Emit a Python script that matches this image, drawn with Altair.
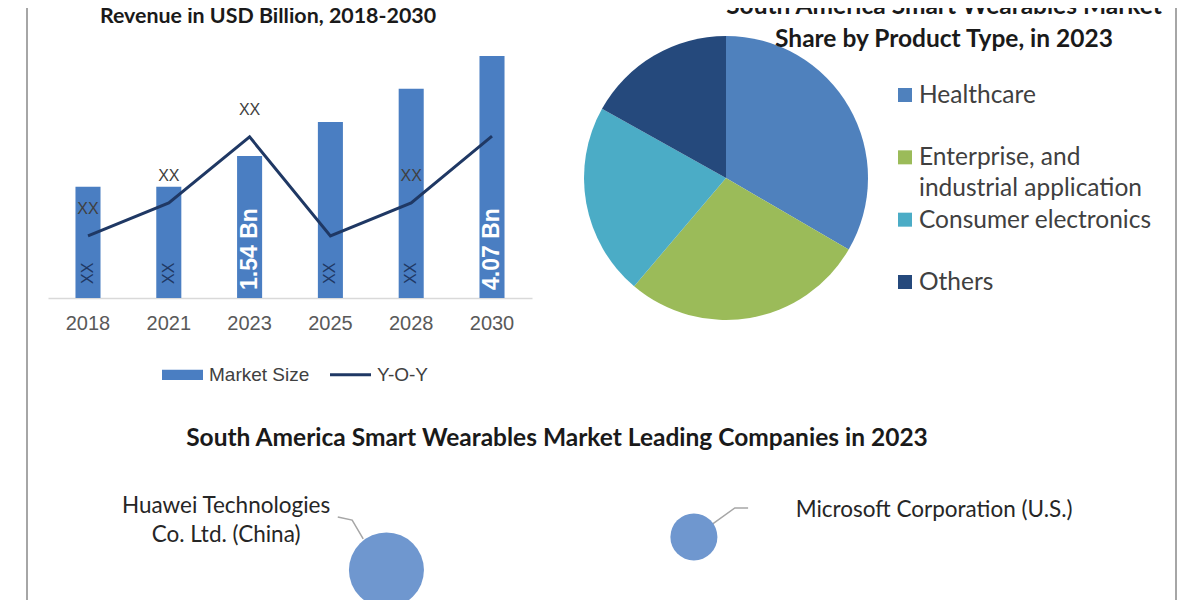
import altair as alt
import pandas as pd

# ---------------- data ----------------
years = ["2018", "2021", "2023", "2025", "2028", "2030"]
market_size = [1.87, 1.87, 2.39, 2.96, 3.52, 4.07]
yoy_growth = [23.7, 36.3, 61.5, 23.7, 36.3, 61.8]
bar_labels = ["XX", "XX", "1.54 Bn", "XX", "XX", "4.07 Bn"]
yoy_labels = ["XX", "XX", "XX", "", "XX", ""]
legend_items = ["Market Size", "Y-O-Y"]

segments = ["Healthcare", "Enterprise, and industrial application",
            "Consumer electronics", "Others"]
segment_labels = ["Healthcare", "Enterprise, and\nindustrial application",
                  "Consumer electronics", "Others"]
segment_share = [33.4, 27.8, 21.9, 16.9]

companies = ["Huawei Technologies Co. Ltd. (China)", "Microsoft Corporation (U.S.)"]
company_labels = ["Huawei Technologies\nCo. Ltd. (China)", "Microsoft Corporation (U.S.)"]
bubble_x = [30.6, 58.4]
bubble_y = [20.7, 44.3]
bubble_size = [56.3, 22.1]
label_x = [16.1, 67.6]
label_y = [67.1, 63.6]
leader_company = [companies[0]] * 3 + [companies[1]] * 3
leader_order = [0, 1, 2, 0, 1, 2]
leader_x = [26.2, 27.5, 28.5, 60.1, 62.1, 63.3]
leader_y = [58.6, 56.4, 42.9, 53.6, 65.0, 65.0]

# ---------------- style ----------------
FONT_C = "Lato"
FONT_A = "Liberation Sans"
BAR = "#4a7ec2"
LINE = "#1f3864"
PIE_COLORS = ["#4f81bd", "#9bbb59", "#4bacc6", "#25497c"]
BUBBLE = "#6f97cf"
FRAME = "#a6a6a6"
TITLE_C = "#1a1a1a"
TEXT_C = "#404040"

RECT_PATH = "M-1,-0.25H1V0.25H-1Z"
LINE_PATH = "M-1,-0.075H1V0.075H-1Z"

# ---------------- bar + line chart ----------------
bar_df = pd.DataFrame({
    "year": years, "size": market_size, "yoy": yoy_growth,
    "bar_label": bar_labels, "yoy_label": yoy_labels,
    "base": [0.0] * len(years),
})

x_year = alt.X("year:N", sort=years,
               scale=alt.Scale(paddingInner=0.69, paddingOuter=0.34),
               axis=alt.Axis(title=None, labelAngle=0, ticks=False, tickSize=0,
                             domainColor="#d9d9d9", domainWidth=1.5,
                             labelFont=FONT_A, labelFontSize=20, labelColor="#595959",
                             labelPadding=15, grid=False))
size_scale = alt.Scale(domain=[0, 4.406], nice=False, zero=True)
yoy_scale = alt.Scale(domain=[0, 100], nice=False, zero=True)

base = alt.Chart(bar_df)
bars = base.mark_bar(color=BAR).encode(
    x=x_year, y=alt.Y("size:Q", scale=size_scale, axis=None))
xx_rot = base.transform_filter("datum.bar_label == 'XX'").mark_text(
    angle=270, align="left", baseline="middle", dx=14,
    font=FONT_A, fontSize=16, color=LINE).encode(
    x=x_year, y=alt.Y("base:Q", scale=size_scale, axis=None), text="bar_label:N")
val_rot = base.transform_filter("datum.bar_label != 'XX'").mark_text(
    angle=270, align="left", baseline="middle", dx=8,
    font=FONT_A, fontSize=23, fontWeight="bold", color="white").encode(
    x=x_year, y=alt.Y("base:Q", scale=size_scale, axis=None), text="bar_label:N")
line = base.mark_line(color=LINE, strokeWidth=3).encode(
    x=x_year, y=alt.Y("yoy:Q", scale=yoy_scale, axis=None))
yoy_txt = base.mark_text(dy=-27, font=FONT_A, fontSize=16, color=TEXT_C).encode(
    x=x_year, y=alt.Y("yoy:Q", scale=yoy_scale, axis=None), text="yoy_label:N")

leg = alt.Legend(title=None, orient="none", legendX=114, legendY=318,
                 direction="horizontal", symbolSize=1681, symbolOpacity=1,
                 symbolStrokeWidth=0, labelFont=FONT_A, labelFontSize=19,
                 labelColor=TEXT_C, labelOffset=6, columnPadding=20, padding=0)
leg_df = pd.DataFrame({"item": legend_items})
legend_layer = alt.Chart(leg_df).transform_filter("false").mark_point(filled=True).encode(
    color=alt.Color("item:N", scale=alt.Scale(domain=legend_items, range=[BAR, LINE]), legend=leg),
    shape=alt.Shape("item:N", scale=alt.Scale(domain=legend_items, range=[RECT_PATH, LINE_PATH]), legend=leg),
)

bar_chart = alt.layer(bars, xx_rot, val_rot, line, yoy_txt, legend_layer).resolve_scale(
    y="independent").properties(
    width=484, height=262,
    title=alt.Title("Revenue in USD Billion, 2018-2030", font=FONT_C, fontSize=21.4,
                    fontWeight="bold", color=TITLE_C, anchor="middle", frame="group",
                    dx=-22, offset=9))

# ---------------- pie chart ----------------
pie_df = pd.DataFrame({"segment": segments, "label": segment_labels,
                       "share": segment_share, "order": list(range(len(segments)))})
pie_color = alt.Color("segment:N", scale=alt.Scale(domain=segments, range=PIE_COLORS), legend=None)
arc = alt.Chart(pie_df).mark_arc(outerRadius=142).encode(
    theta=alt.Theta("share:Q", stack=True), color=pie_color, order=alt.Order("order:Q"))
leg_y = alt.Y("segment:N", sort=segments,
              scale=alt.Scale(type="point", domain=segments, range=[59, 246], padding=0),
              axis=None)
swatch = alt.Chart(pie_df).mark_square(size=196, opacity=1).encode(
    x=alt.value(321), y=leg_y, color=pie_color)
sw_text = alt.Chart(pie_df).mark_text(
    align="left", baseline="top", dy=-11, lineBreak="\n", lineHeight=31,
    font=FONT_C, fontSize=24.5, color=TEXT_C).encode(
    x=alt.value(335), y=leg_y, text="label:N")
title_df = pd.DataFrame({"title": ["South America Smart Wearables Market\nShare by Product Type, in 2023"]})
pie_title = alt.Chart(title_df).mark_text(
    align="center", baseline="top", lineBreak="\n", lineHeight=33,
    font=FONT_C, fontSize=24.5, fontWeight="bold", color=TITLE_C).encode(
    x=alt.value(360), y=alt.value(-41), text="title:N")
pie_chart = alt.layer(arc, swatch, sw_text, pie_title).properties(width=284, height=284)

top_row = alt.hconcat(bar_chart, pie_chart, spacing=52, bounds="flush").resolve_scale(
    color="independent", shape="independent").resolve_legend(
    color="independent", shape="independent")

# ---------------- bubbles ----------------
bub_df = pd.DataFrame({"company": companies, "label": company_labels, "x": bubble_x,
                       "y": bubble_y, "size": bubble_size, "lx": label_x, "ly": label_y})
lead_df = pd.DataFrame({"company": leader_company, "order": leader_order,
                        "x": leader_x, "y": leader_y})
xs = alt.Scale(domain=[0, 100], nice=False, zero=False)
ys = alt.Scale(domain=[0, 100], nice=False, zero=False)
leaders = alt.Chart(lead_df).mark_line(color=FRAME, strokeWidth=1.5).encode(
    x=alt.X("x:Q", scale=xs, axis=None), y=alt.Y("y:Q", scale=ys, axis=None),
    detail="company:N", order="order:Q")
bubbles = alt.Chart(bub_df).mark_circle(opacity=1, color=BUBBLE).encode(
    x=alt.X("x:Q", scale=xs, axis=None), y=alt.Y("y:Q", scale=ys, axis=None),
    size=alt.Size("size:Q", scale=alt.Scale(domain=[0, 100], range=[0, 10000]), legend=None))
lab_center = alt.Chart(bub_df).transform_filter(
    alt.datum.company == companies[0]).mark_text(
    align="center", baseline="top", dy=-10, lineBreak="\n", lineHeight=29,
    font=FONT_C, fontSize=22.5, color="#262626").encode(
    x=alt.X("lx:Q", scale=xs, axis=None), y=alt.Y("ly:Q", scale=ys, axis=None), text="label:N")
lab_left = alt.Chart(bub_df).transform_filter(
    alt.datum.company == companies[1]).mark_text(
    align="left", baseline="middle", font=FONT_C, fontSize=22.5, color="#262626").encode(
    x=alt.X("lx:Q", scale=xs, axis=None), y=alt.Y("ly:Q", scale=ys, axis=None), text="label:N")
bottom = alt.layer(leaders, bubbles, lab_center, lab_left).properties(
    width=1106, height=140,
    title=alt.Title("South America Smart Wearables Market Leading Companies in 2023",
                    font=FONT_C, fontSize=24.5, fontWeight="bold", color=TITLE_C,
                    anchor="middle", frame="group", dx=-44, offset=8))

middle = alt.vconcat(top_row, bottom, spacing=40)

# ---------------- frame lines ----------------
frame_df = pd.DataFrame({"edge": ["frame"]})


def frame_line():
    return alt.Chart(frame_df).mark_rule(color=FRAME, strokeWidth=2).encode(
        x=alt.value(0), y=alt.value(-38), y2=alt.value(600)).properties(width=9, height=1)


chart = alt.hconcat(frame_line(), middle, frame_line(), spacing=12).properties(
    padding={"left": 18, "top": -14, "right": 0, "bottom": -36}
).configure_view(strokeWidth=0)

chart.save("out.html", embed_options={"renderer": "svg", "actions": False})
